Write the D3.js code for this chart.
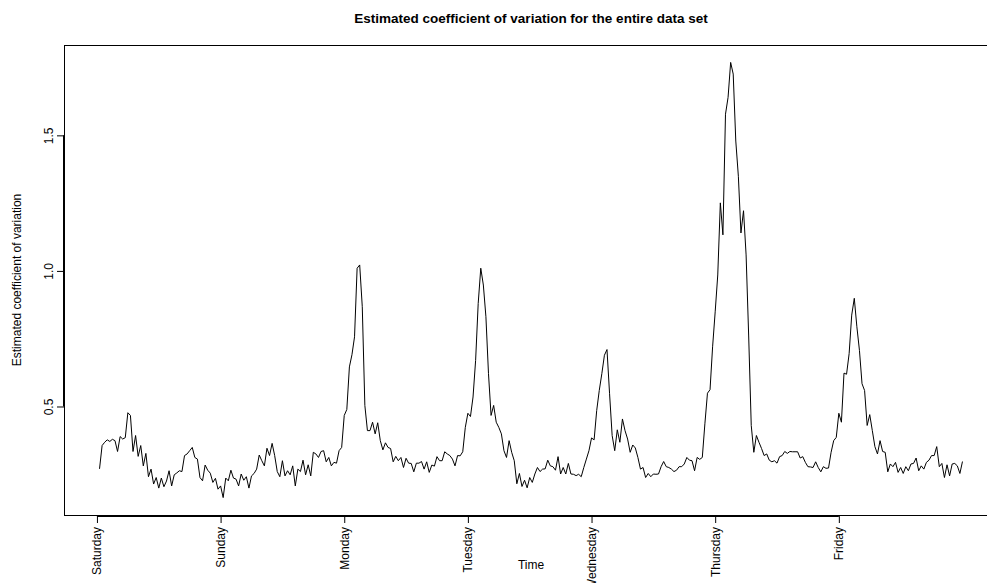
<!DOCTYPE html>
<html>
<head>
<meta charset="utf-8">
<script src="https://cdn.jsdelivr.net/npm/d3@7"></script>
<style>
  body { margin: 0; background: #fff; }
  svg { display: block; }
  text { font-family: "Liberation Sans", Arial, Helvetica, sans-serif; fill: #000; }
</style>
</head>
<body>
<svg id="chart" width="987" height="583"></svg>
<script>
// Half-hourly estimated coefficient of variation, one array per day (48 readings each)
const dayLabels = ["Saturday", "Sunday", "Monday", "Tuesday", "Wednesday", "Thursday", "Friday"];
const readingsPerDay = 48;

const saturday = [0.27, 0.356, 0.368, 0.377, 0.371, 0.379, 0.374, 0.334, 0.389, 0.38,
  0.385, 0.477, 0.467, 0.334, 0.393, 0.316, 0.356, 0.281, 0.327, 0.241,
  0.269, 0.214, 0.238, 0.199, 0.236, 0.204, 0.225, 0.263, 0.207, 0.248,
  0.255, 0.263, 0.26, 0.319, 0.325, 0.337, 0.349, 0.312, 0.306, 0.238,
  0.226, 0.284, 0.265, 0.254, 0.22, 0.235, 0.195, 0.207];
const sunday = [0.164, 0.236, 0.226, 0.265, 0.236, 0.232, 0.207, 0.251, 0.228, 0.241,
  0.199, 0.244, 0.253, 0.269, 0.321, 0.3, 0.281, 0.346, 0.319, 0.364,
  0.319, 0.26, 0.241, 0.3, 0.244, 0.263, 0.248, 0.281, 0.207, 0.269,
  0.26, 0.302, 0.248, 0.285, 0.244, 0.331, 0.325, 0.312, 0.334, 0.337,
  0.296, 0.312, 0.281, 0.294, 0.291, 0.337, 0.349, 0.467];
const monday = [0.489, 0.646, 0.691, 0.757, 1.01, 1.022, 0.868, 0.504, 0.411, 0.411,
  0.442, 0.399, 0.44, 0.374, 0.34, 0.366, 0.349, 0.345, 0.296, 0.316,
  0.3, 0.312, 0.275, 0.309, 0.291, 0.29, 0.259, 0.291, 0.291, 0.297,
  0.269, 0.296, 0.257, 0.284, 0.28, 0.315, 0.3, 0.3, 0.333, 0.325,
  0.319, 0.306, 0.281, 0.319, 0.318, 0.333, 0.423, 0.475];
const tuesday = [0.463, 0.535, 0.67, 0.88, 1.01, 0.948, 0.831, 0.621, 0.467, 0.504,
  0.442, 0.423, 0.399, 0.337, 0.312, 0.374, 0.331, 0.3, 0.215, 0.253,
  0.205, 0.228, 0.2, 0.238, 0.22, 0.251, 0.275, 0.26, 0.269, 0.27,
  0.302, 0.281, 0.278, 0.265, 0.315, 0.251, 0.275, 0.251, 0.29, 0.251,
  0.25, 0.245, 0.25, 0.241, 0.275, 0.306, 0.337, 0.384];
const wednesday = [0.377, 0.485, 0.559, 0.621, 0.689, 0.71, 0.547, 0.393, 0.337, 0.414,
  0.368, 0.454, 0.411, 0.38, 0.331, 0.358, 0.347, 0.312, 0.269, 0.275,
  0.238, 0.253, 0.241, 0.251, 0.25, 0.251, 0.278, 0.297, 0.278, 0.275,
  0.269, 0.26, 0.265, 0.278, 0.278, 0.288, 0.312, 0.302, 0.3, 0.263,
  0.312, 0.305, 0.312, 0.436, 0.549, 0.562, 0.72, 0.849];
const thursday = [0.985, 1.251, 1.133, 1.578, 1.64, 1.769, 1.726, 1.479, 1.349, 1.14,
  1.222, 1.059, 0.76, 0.43, 0.331, 0.393, 0.368, 0.345, 0.319, 0.325,
  0.302, 0.296, 0.3, 0.291, 0.315, 0.319, 0.334, 0.327, 0.334, 0.333,
  0.333, 0.333, 0.31, 0.315, 0.294, 0.278, 0.277, 0.275, 0.296, 0.275,
  0.259, 0.278, 0.272, 0.273, 0.331, 0.374, 0.386, 0.475];
const friday = [0.442, 0.623, 0.619, 0.695, 0.837, 0.899, 0.794, 0.707, 0.584, 0.559,
  0.43, 0.47, 0.411, 0.352, 0.325, 0.374, 0.334, 0.331, 0.259, 0.288,
  0.278, 0.294, 0.257, 0.275, 0.253, 0.278, 0.263, 0.288, 0.29, 0.31,
  0.263, 0.281, 0.269, 0.294, 0.302, 0.319, 0.319, 0.352, 0.278, 0.29,
  0.238, 0.285, 0.244, 0.288, 0.29, 0.281, 0.253, 0.297];

const yTickValues = [0.5, 1.0, 1.5];

const titleText = "Estimated coefficient of variation for the entire data set";
const xTitle = "Time";
const yTitle = "Estimated coefficient of variation";

// ---- assemble the series: reading index 1..N ----
const values = [].concat(saturday, sunday, monday, tuesday, wednesday, thursday, friday);
const series = values.map((v, i) => ({ t: i + 1, v }));
const dayTicks = dayLabels.map((d, i) => ({ label: d, t: i * readingsPerDay }));

// ---- plot region ----
const svg = d3.select("#chart");
const plot = { left: 65, right: 997, top: 45, bottom: 515 };

// axis ranges padded by 4% of the data span on each side
const n = values.length;
const xPad = 0.04 * (n - 1);
const x = d3.scaleLinear()
  .domain([1 - xPad, n + xPad])
  .range([plot.left, plot.right]);

const [vMin, vMax] = d3.extent(values);
const yPad = 0.04 * (vMax - vMin);
const y = d3.scaleLinear()
  .domain([vMin - yPad, vMax + yPad])
  .range([plot.bottom, plot.top]);

// frame
svg.append("rect")
  .attr("x", plot.left - 0.5)
  .attr("y", plot.top + 0.5)
  .attr("width", plot.right - plot.left)
  .attr("height", plot.bottom - plot.top)
  .attr("fill", "none")
  .attr("stroke", "#000")
  .attr("stroke-width", 1);

// series line
svg.append("path")
  .datum(series)
  .attr("fill", "none")
  .attr("stroke", "#000")
  .attr("stroke-width", 1)
  .attr("stroke-linejoin", "round")
  .attr("d", d3.line().x(d => x(d.t)).y(d => y(d.v)));

// bottom axis: one tick per day, labels rotated
const xAxis = d3.axisBottom(x)
  .tickValues(dayTicks.map(d => d.t))
  .tickFormat((d, i) => dayTicks[i].label)
  .tickSize(7)
  .tickSizeOuter(0);

const gx = svg.append("g")
  .attr("transform", `translate(0,${plot.bottom + 1})`)
  .call(xAxis);
gx.select(".domain")
  .attr("d", `M${x(dayTicks[0].t)},0.5H${x(dayTicks[dayTicks.length - 1].t)}`)
  .attr("stroke", "#000");
gx.selectAll(".tick line").attr("stroke", "#000");
gx.selectAll(".tick text")
  .attr("transform", "rotate(-90)")
  .attr("text-anchor", "end")
  .attr("x", -11)
  .attr("y", 4)
  .attr("dy", 0)
  .style("font-size", "12px")
  .style("font-family", "'Liberation Sans', Arial, Helvetica, sans-serif");

// left axis
const yAxis = d3.axisLeft(y)
  .tickValues(yTickValues)
  .tickFormat(d3.format(".1f"))
  .tickSize(7)
  .tickSizeOuter(0);

const gy = svg.append("g")
  .attr("transform", `translate(${plot.left - 1},0)`)
  .call(yAxis);
gy.select(".domain")
  .attr("d", `M-0.5,${y(yTickValues[0])}V${y(yTickValues[yTickValues.length - 1])}`)
  .attr("stroke", "#000");
gy.selectAll(".tick line").attr("stroke", "#000");
gy.selectAll(".tick text")
  .attr("transform", "rotate(-90)")
  .attr("text-anchor", "middle")
  .attr("x", 0)
  .attr("y", -11)
  .attr("dy", 0)
  .style("font-size", "12px")
  .style("font-family", "'Liberation Sans', Arial, Helvetica, sans-serif");

// titles
svg.append("text")
  .attr("x", (plot.left + plot.right) / 2)
  .attr("y", 23)
  .attr("text-anchor", "middle")
  .style("font-size", "13.5px")
  .style("font-weight", "bold")
  .text(titleText);

svg.append("text")
  .attr("x", (plot.left + plot.right) / 2)
  .attr("y", 569)
  .attr("text-anchor", "middle")
  .style("font-size", "12px")
  .text(xTitle);

svg.append("text")
  .attr("transform", `translate(21,${(plot.top + plot.bottom) / 2}) rotate(-90)`)
  .attr("text-anchor", "middle")
  .style("font-size", "12px")
  .text(yTitle);
</script>
</body>
</html>
